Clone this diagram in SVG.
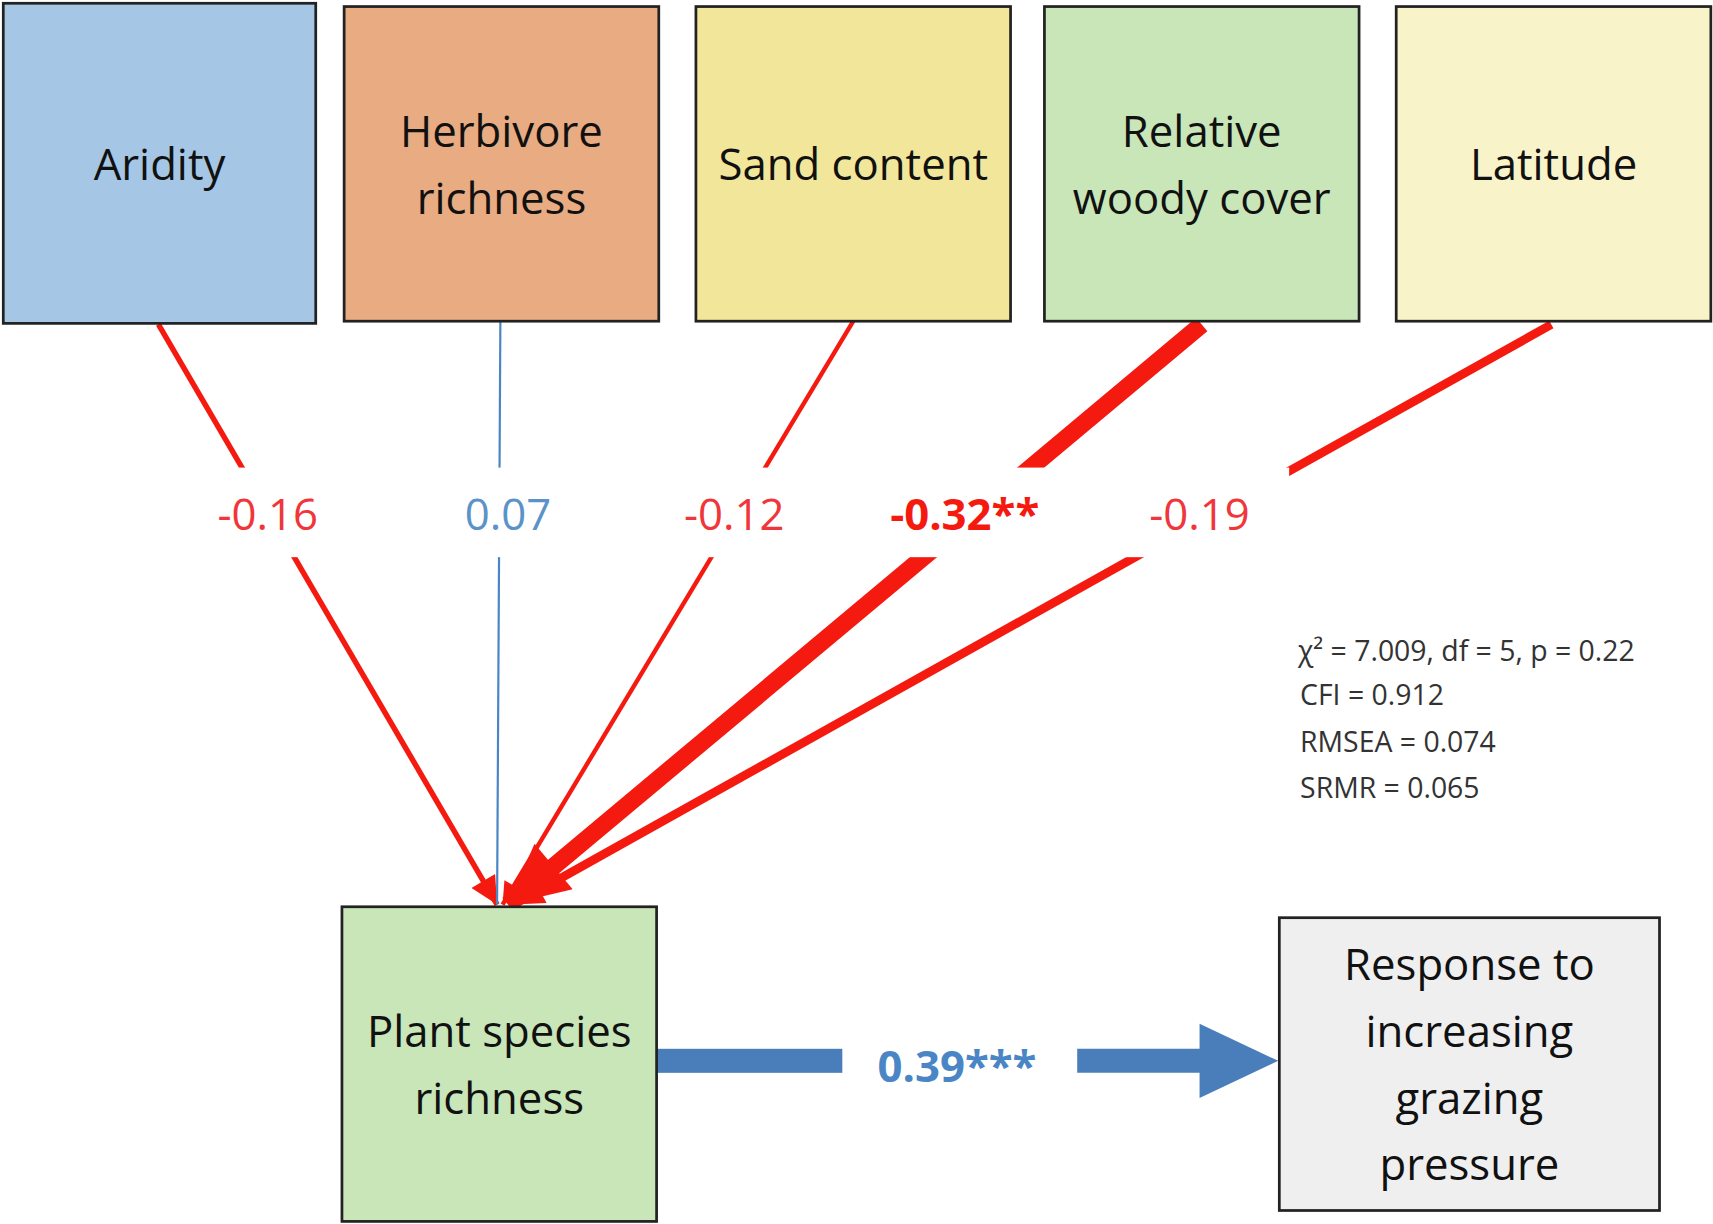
<svg xmlns="http://www.w3.org/2000/svg" width="1713" height="1224" viewBox="0 0 1713 1224">
<style>
.box{stroke:#222;stroke-width:2.5}
.t{font-family:"Open Sans","Liberation Sans",sans-serif;font-size:40px;fill:#111;text-anchor:middle}
.l{font-family:"Open Sans","Liberation Sans",sans-serif;font-size:40px;text-anchor:middle}
.s{font-family:"Open Sans","Liberation Sans",sans-serif;font-size:26px;fill:#333}
.red{stroke:#f41a10;fill:none}
</style>
<defs>
<marker id="ah" viewBox="0 0 10 10" refX="10" refY="5" markerWidth="4" markerHeight="3.4" orient="auto" markerUnits="strokeWidth"><path d="M0,0L10,5L0,10z" fill="#f41a10"/></marker>
<marker id="ahr" viewBox="0 0 10 10" refX="10" refY="5" markerWidth="6" markerHeight="5" orient="auto" markerUnits="strokeWidth"><path d="M0,0L10,5L0,10z" fill="#f41a10"/></marker>
</defs>
<rect width="1713" height="1224" fill="#fff"/>
<g transform="scale(1.0925)">
<g id="connectors">
<line class="red" x1="145" y1="297" x2="455" y2="828" stroke-width="5" marker-end="url(#ahr)"/>
<line x1="458" y1="294" x2="455" y2="828" stroke="#4a86c5" stroke-width="2"/>
<line class="red" x1="781" y1="294" x2="460" y2="828" stroke-width="4" marker-end="url(#ahr)"/>
<line class="red" x1="1100" y1="297" x2="465" y2="828" stroke-width="16" marker-end="url(#ah)"/>
<line class="red" x1="1420" y1="297" x2="470" y2="828" stroke-width="8" marker-end="url(#ah)"/>
<rect x="170" y="428" width="1010" height="82" fill="#fff"/>
<text class="l" x="245" y="485" fill="#f0363a">-0.16</text>
<text class="l" x="465" y="485" fill="#5b93c8">0.07</text>
<text class="l" x="672" y="485" fill="#f0363a">-0.12</text>
<text class="l" x="883" y="485" fill="#f41a10" font-weight="bold">-0.32**</text>
<text class="l" x="1098" y="485" fill="#f0363a">-0.19</text>
<rect x="601" y="960" width="170" height="22" fill="#4a7ebb"/>
<path d="M986,960H1098V937L1170,971L1098,1005V982H986z" fill="#4a7ebb"/>
<text class="l" x="876" y="990" fill="#4a86c5" font-weight="bold">0.39***</text>
</g>
<g id="aridity"><rect class="box" x="3" y="3" width="286" height="293" fill="#a5c6e4"/><text class="t" x="146" y="165">Aridity</text></g>
<g id="herbivore"><rect class="box" x="315" y="6" width="288" height="288" fill="#e8ab82"/><text class="t" x="459" y="135">Herbivore</text><text class="t" x="459" y="196">richness</text></g>
<g id="sand"><rect class="box" x="637" y="6" width="288" height="288" fill="#f1e699"/><text class="t" x="781" y="165">Sand content</text></g>
<g id="woody"><rect class="box" x="956" y="6" width="288" height="288" fill="#c8e6b8"/><text class="t" x="1100" y="135">Relative</text><text class="t" x="1100" y="196">woody cover</text></g>
<g id="latitude"><rect class="box" x="1278" y="6" width="288" height="288" fill="#f8f3c9"/><text class="t" x="1422" y="165">Latitude</text></g>
<g id="plant"><rect class="box" x="313" y="830" width="288" height="288" fill="#c8e6b8"/><text class="t" x="457" y="958">Plant species</text><text class="t" x="457" y="1020">richness</text></g>
<g id="response"><rect class="box" x="1171" y="840" width="348" height="268" fill="#efefef"/><text class="t" x="1345" y="897">Response to</text><text class="t" x="1345" y="958">increasing</text><text class="t" x="1345" y="1020">grazing</text><text class="t" x="1345" y="1080">pressure</text></g>
<g id="stats">
<text class="s" x="1188" y="605">χ² = 7.009, df = 5, p = 0.22</text>
<text class="s" x="1190" y="645">CFI = 0.912</text>
<text class="s" x="1190" y="688">RMSEA = 0.074</text>
<text class="s" x="1190" y="730">SRMR = 0.065</text>
</g>
</g>
</svg>
